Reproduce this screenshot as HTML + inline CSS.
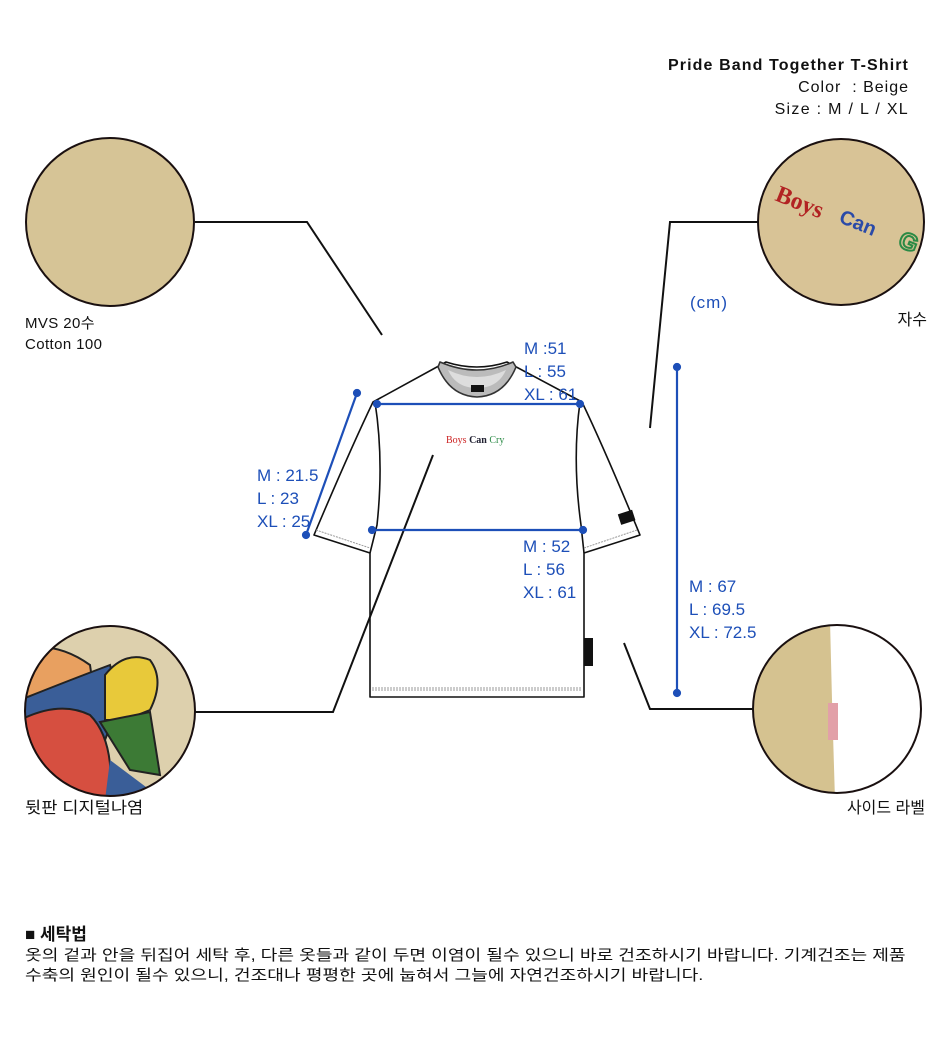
<!DOCTYPE html>
<html><head><meta charset="utf-8"><style>
html,body{margin:0;padding:0;background:#fff;}
body{width:950px;height:1051px;position:relative;overflow:hidden;font-family:"Liberation Sans","Noto Sans CJK KR",sans-serif;}
.t{position:absolute;color:#111;font-size:15px;line-height:21px;white-space:nowrap;}
.b{position:absolute;color:#1d4fb8;font-size:17px;line-height:23px;white-space:nowrap;}
</style></head><body>
<svg width="950" height="1051" style="position:absolute;left:0;top:0">
<defs>
<clipPath id="c1"><circle cx="110" cy="711" r="85"/></clipPath>
<clipPath id="c2"><circle cx="837" cy="709" r="84"/></clipPath>
<clipPath id="c3"><circle cx="841" cy="222" r="83"/></clipPath>
</defs>
<!-- circles -->
<circle cx="110" cy="222" r="84" fill="#d6c496" stroke="#1a1010" stroke-width="2"/>
<circle cx="841" cy="222" r="83" fill="#d8c396" stroke="#1a1010" stroke-width="2"/>
<g clip-path="url(#c3)">
<text x="774" y="200" font-family="Liberation Serif,serif" font-size="24" font-weight="bold" fill="#b22323" transform="rotate(22 774 200)">Boys</text>
<text x="838" y="222" font-family="Liberation Sans,sans-serif" font-size="20" font-weight="bold" fill="#2a4aa8" transform="rotate(22 838 222)">Can</text>
<text x="897" y="246" font-family="Liberation Sans,sans-serif" font-size="24" font-weight="bold" fill="none" stroke="#2a8a45" stroke-width="2" transform="rotate(22 897 246)">G</text>
</g>
<g clip-path="url(#c2)">
<rect x="750" y="620" width="180" height="180" fill="#fff"/>
<polygon points="750,620 830,620 832,700 835,800 750,800" fill="#d5c290"/>
<rect x="828" y="703" width="10" height="37" fill="#e2a0a8"/>
</g>
<circle cx="837" cy="709" r="84" fill="none" stroke="#1a1010" stroke-width="2"/>
<g clip-path="url(#c1)">
<rect x="20" y="620" width="180" height="180" fill="#ddd0ad"/>
<path d="M20,650 Q55,640 90,665 L95,700 L20,705 Z" fill="#e8a060" stroke="#222" stroke-width="2"/>
<path d="M20,700 Q70,680 110,665 L120,700 L105,740 L60,720 L20,720Z" fill="#3a5e98" stroke="#222" stroke-width="2"/>
<path d="M20,720 Q60,700 90,715 Q115,740 110,800 L20,800Z" fill="#d64f40" stroke="#222" stroke-width="2"/>
<path d="M105,675 Q125,650 150,660 Q165,680 150,710 L125,720 L105,720Z" fill="#e8c93a" stroke="#222" stroke-width="2"/>
<path d="M100,722 L150,712 L160,775 L130,770Z" fill="#3c7a35" stroke="#222" stroke-width="2"/>
<path d="M110,760 L150,790 L120,800 L105,800Z" fill="#3a5e98"/>
</g>
<circle cx="110" cy="711" r="85" fill="none" stroke="#1a1010" stroke-width="2"/>
<!-- tshirt -->
<g stroke="#111" stroke-width="1.6" fill="#fff" stroke-linejoin="round">
<path d="M446,362 L373,402 Q350,450 314,535 L370,553 L370,697 L584,697 L584,553 L640,535 Q605,450 582,402 L507,362 Q477,372 446,362Z"/>
<path d="M375,402 Q384,460 377,525 L370,553" fill="none"/>
<path d="M580,402 Q572,460 581,525 L584,553" fill="none"/>
<path d="M440,362 Q477,378 513,362 L516,367 Q504,396 477,397 Q450,396 438,367Z" fill="#bbb" stroke="#333"/>
<path d="M448,370 Q477,384 506,370 Q498,388 477,388 Q456,388 448,370Z" fill="#ddd" stroke="none"/>
</g>
<rect x="471" y="385" width="13" height="7" fill="#111"/>
<rect x="619" y="512" width="15" height="11" fill="#111" transform="rotate(-18 626 517)"/>
<rect x="584" y="638" width="9" height="28" fill="#111"/>
<g stroke="#999" stroke-width="1" stroke-dasharray="2,1" fill="none">
<line x1="372" y1="688" x2="582" y2="688"/><line x1="372" y1="690" x2="582" y2="690"/>
<line x1="316" y1="530" x2="370" y2="548"/><line x1="584" y1="548" x2="637" y2="530"/>
</g>
<text x="446" y="443" font-size="10" font-family="Liberation Serif,serif"><tspan fill="#c22">Boys</tspan> <tspan fill="#223" font-weight="bold">Can</tspan> <tspan fill="#2a8a45">Cry</tspan></text>
<!-- connectors (on top) -->
<g stroke="#111" stroke-width="2" fill="none">
<polyline points="195,222 307,222 382,335"/>
<polyline points="758,222 670,222 650,428"/>
<polyline points="195,712 333,712 433,455"/>
<polyline points="753,709 650,709 624,643"/>
</g>
<!-- blue dims -->
<g stroke="#1d4fb8" stroke-width="2.2" fill="#1d4fb8">
<line x1="377" y1="404" x2="580" y2="404"/><circle cx="377" cy="404" r="3"/><circle cx="580" cy="404" r="3"/>
<line x1="372" y1="530" x2="583" y2="530"/><circle cx="372" cy="530" r="3"/><circle cx="583" cy="530" r="3"/>
<line x1="357" y1="393" x2="306" y2="535"/><circle cx="357" cy="393" r="3"/><circle cx="306" cy="535" r="3"/>
<line x1="677" y1="367" x2="677" y2="693"/><circle cx="677" cy="367" r="3"/><circle cx="677" cy="693" r="3"/>
</g>
</svg>
<div class="t" style="right:41px;top:55px;font-size:16px;font-weight:bold;letter-spacing:1.1px;">Pride Band Together T-Shirt</div>
<div class="t" style="right:41px;top:77px;font-size:16px;letter-spacing:1px;">Color &nbsp;: Beige</div>
<div class="t" style="right:41px;top:99px;font-size:16px;letter-spacing:1.3px;">Size : M / L / XL</div>
<div class="t" style="left:25px;top:313px;letter-spacing:0.4px;">MVS 20수<br>Cotton 100</div>
<div class="t" style="right:23px;top:310px;font-size:16px;">자수</div>
<div class="t" style="left:25px;top:798px;font-size:16px;transform:scaleX(1.1);transform-origin:left;">뒷판 디지털나염</div>
<div class="t" style="right:25px;top:798px;font-size:16px;">사이드 라벨</div>
<div class="b" style="left:690px;top:291px;letter-spacing:1px;">(cm)</div>
<div class="b" style="left:524px;top:337px;">M :51<br>L : 55<br>XL : 61</div>
<div class="b" style="left:257px;top:464px;">M : 21.5<br>L : 23<br>XL : 25</div>
<div class="b" style="left:523px;top:535px;">M : 52<br>L : 56<br>XL : 61</div>
<div class="b" style="left:689px;top:575px;">M : 67<br>L : 69.5<br>XL : 72.5</div>
<div class="t" style="left:25px;top:924px;font-size:17px;font-weight:bold;">■ 세탁법</div>
<div class="t" style="left:25px;top:946px;font-size:15px;line-height:20px;transform:scaleX(1.21);transform-origin:left;">옷의 겉과 안을 뒤집어 세탁 후, 다른 옷들과 같이 두면 이염이 될수 있으니 바로 건조하시기 바랍니다. 기계건조는 제품<br>수축의 원인이 될수 있으니, 건조대나 평평한 곳에 눕혀서 그늘에 자연건조하시기 바랍니다.</div>
</body></html>
